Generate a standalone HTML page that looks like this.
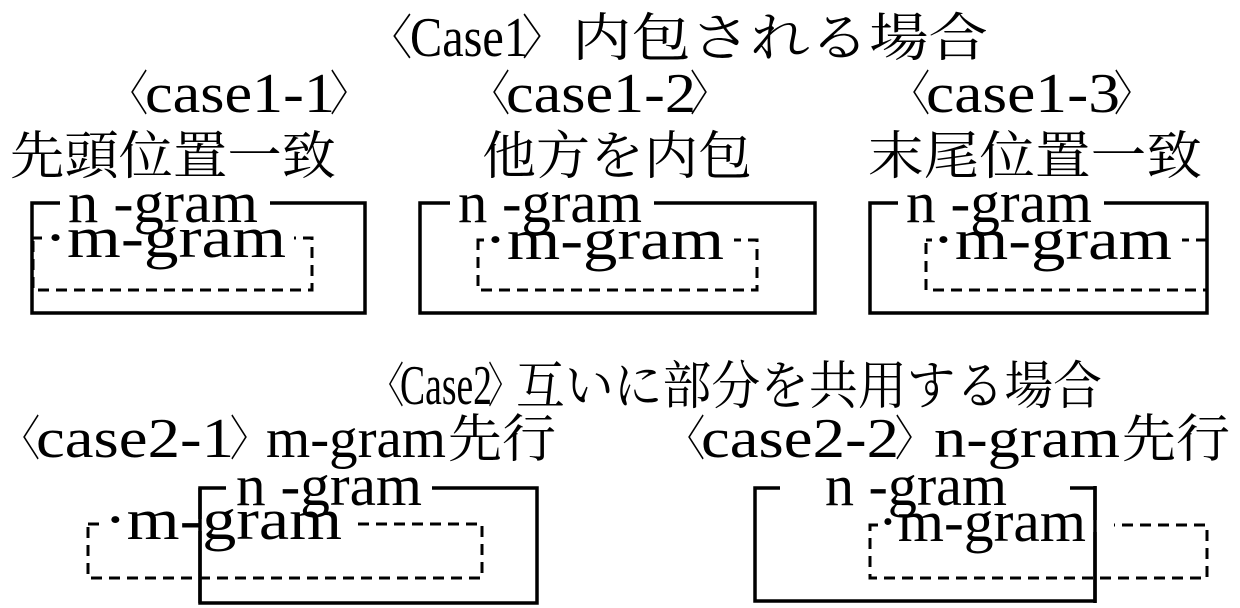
<!DOCTYPE html>
<html><head><meta charset="utf-8"><style>
html,body{margin:0;padding:0;background:#fff;}
svg{display:block;}
text{font-family:"Liberation Serif","Noto Serif CJK SC","Noto Sans CJK JP",serif;fill:#000;}
.L{font-size:56px;}
.b{font-size:48px;}
.j{font-size:52px;}
.g{font-size:58px;}
.w{fill:#fff;stroke:none;}
.s{fill:none;stroke:#000;stroke-width:3.5;}
.d{fill:none;stroke:#000;stroke-width:3;stroke-dasharray:11 7;}
</style></head><body>
<svg width="1240" height="608" viewBox="0 0 1240 608" xmlns="http://www.w3.org/2000/svg">
<!-- Case1 heading -->
<text class="b" x="372" y="54" textLength="40" lengthAdjust="spacingAndGlyphs">〈</text>
<text class="L" x="410" y="56" textLength="118" lengthAdjust="spacingAndGlyphs">Case1</text>
<text class="b" x="522" y="54" textLength="40" lengthAdjust="spacingAndGlyphs">〉</text>
<text class="j" x="572" y="56" textLength="416" lengthAdjust="spacingAndGlyphs">内包される場合</text>

<text class="b" x="112" y="110" textLength="36" lengthAdjust="spacingAndGlyphs">〈</text>
<text class="L" x="145" y="112" textLength="190" lengthAdjust="spacingAndGlyphs">case1-1</text>
<text class="b" x="330" y="110" textLength="36" lengthAdjust="spacingAndGlyphs">〉</text>

<text class="b" x="474" y="110" textLength="36" lengthAdjust="spacingAndGlyphs">〈</text>
<text class="L" x="506" y="112" textLength="190" lengthAdjust="spacingAndGlyphs">case1-2</text>
<text class="b" x="690" y="110" textLength="36" lengthAdjust="spacingAndGlyphs">〉</text>

<text class="b" x="894" y="110" textLength="36" lengthAdjust="spacingAndGlyphs">〈</text>
<text class="L" x="926" y="112" textLength="194" lengthAdjust="spacingAndGlyphs">case1-3</text>
<text class="b" x="1114" y="110" textLength="36" lengthAdjust="spacingAndGlyphs">〉</text>

<text class="j" x="10" y="174" textLength="326" lengthAdjust="spacingAndGlyphs">先頭位置一致</text>
<text class="j" x="482" y="174" textLength="270" lengthAdjust="spacingAndGlyphs">他方を内包</text>
<text class="j" x="868" y="174" textLength="334" lengthAdjust="spacingAndGlyphs">末尾位置一致</text>

<!-- Case2 heading -->
<text class="b" x="372" y="402" textLength="32" lengthAdjust="spacingAndGlyphs">〈</text>
<text class="L" x="400" y="404" textLength="92" lengthAdjust="spacingAndGlyphs">Case2</text>
<text class="b" x="488" y="402" textLength="30" lengthAdjust="spacingAndGlyphs">〉</text>
<text class="j" x="516" y="404" textLength="586" lengthAdjust="spacingAndGlyphs">互いに部分を共用する場合</text>

<text class="b" x="4" y="455" textLength="36" lengthAdjust="spacingAndGlyphs">〈</text>
<text class="L" x="36" y="457" textLength="198" lengthAdjust="spacingAndGlyphs">case2-1</text>
<text class="b" x="230" y="455" textLength="36" lengthAdjust="spacingAndGlyphs">〉</text>
<text class="L" x="266" y="457" textLength="180" lengthAdjust="spacingAndGlyphs">m-gram</text>
<text class="j" x="448" y="457" textLength="108" lengthAdjust="spacingAndGlyphs">先行</text>

<text class="b" x="669" y="455" textLength="36" lengthAdjust="spacingAndGlyphs">〈</text>
<text class="L" x="701" y="457" textLength="198" lengthAdjust="spacingAndGlyphs">case2-2</text>
<text class="b" x="895" y="455" textLength="36" lengthAdjust="spacingAndGlyphs">〉</text>
<text class="L" x="934" y="457" textLength="186" lengthAdjust="spacingAndGlyphs">n-gram</text>
<text class="j" x="1122" y="457" textLength="108" lengthAdjust="spacingAndGlyphs">先行</text>

<!-- case1-1 -->
<rect class="s" x="32" y="203" width="333" height="110"/>
<rect class="d" x="33" y="238" width="279" height="52"/>
<rect class="w" x="60" y="198" width="210" height="12"/>
<rect class="w" x="42" y="233" width="252" height="12"/>
<text class="g" x="68" y="222" textLength="190" lengthAdjust="spacingAndGlyphs">n -gram</text>
<text class="g" x="44" y="257" textLength="242" lengthAdjust="spacingAndGlyphs">·m-gram</text>

<!-- case1-2 -->
<rect class="s" x="420" y="203" width="395" height="110"/>
<rect class="d" x="478" y="240" width="279" height="50"/>
<rect class="w" x="450" y="198" width="204" height="12"/>
<rect class="w" x="484" y="235" width="250" height="12"/>
<text class="g" x="458" y="222" textLength="184" lengthAdjust="spacingAndGlyphs">n -gram</text>
<text class="g" x="484" y="259" textLength="240" lengthAdjust="spacingAndGlyphs">·m-gram</text>

<!-- case1-3 -->
<rect class="s" x="870" y="203" width="337" height="110"/>
<rect class="d" x="926" y="240" width="281" height="50"/>
<rect class="w" x="898" y="198" width="206" height="12"/>
<rect class="w" x="932" y="235" width="250" height="12"/>
<text class="g" x="906" y="222" textLength="186" lengthAdjust="spacingAndGlyphs">n -gram</text>
<text class="g" x="932" y="259" textLength="240" lengthAdjust="spacingAndGlyphs">·m-gram</text>

<!-- case2-1 -->
<rect class="d" x="88" y="524" width="394" height="54"/>
<rect class="s" x="200" y="488" width="337" height="115"/>
<rect class="w" x="226" y="483" width="206" height="12"/>
<rect class="w" x="100" y="519" width="252" height="12"/>
<text class="g" x="236" y="505" textLength="186" lengthAdjust="spacingAndGlyphs">n -gram</text>
<text class="g" x="104" y="539" textLength="238" lengthAdjust="spacingAndGlyphs">·m-gram</text>
<line class="s" x1="200" y1="488" x2="200" y2="603"/>

<!-- case2-2 -->
<rect class="s" x="755" y="488" width="340" height="113"/>
<rect class="d" x="870" y="525" width="337" height="53"/>
<rect class="w" x="780" y="483" width="290" height="12"/>
<rect class="w" x="878" y="520" width="236" height="12"/>
<text class="g" x="825" y="505" textLength="182" lengthAdjust="spacingAndGlyphs">n -gram</text>
<text class="g" x="878" y="541" textLength="208" lengthAdjust="spacingAndGlyphs">·m-gram</text>
<line class="s" x1="1095" y1="486" x2="1095" y2="603"/>
</svg>
</body></html>
